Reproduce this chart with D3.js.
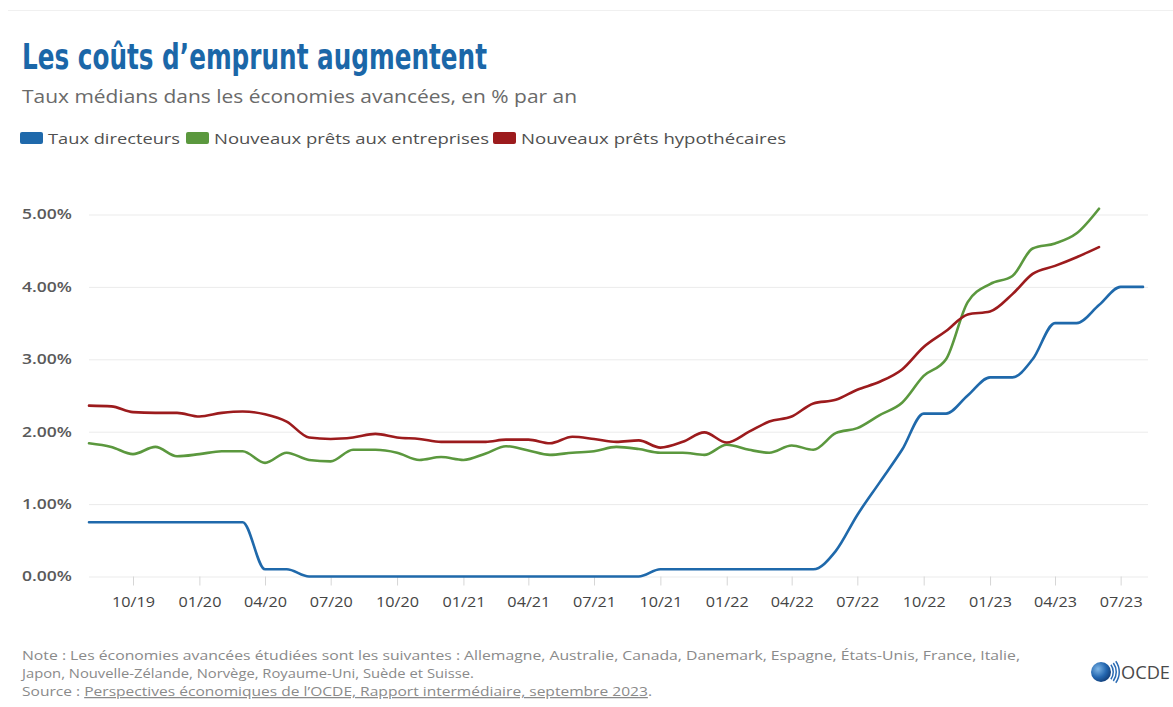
<!DOCTYPE html>
<html>
<head>
<meta charset="utf-8">
<script src="https://cdn.jsdelivr.net/npm/d3@7"></script>
<style>
  body { margin: 0; background: #fff; }
  svg { display: block; font-family: "Open Sans", "Noto Sans", sans-serif; }
</style>
</head>
<body>
<div id="chart"></div>
<script>
// months on the x axis (one point per month)
const months = [
    "2019-08", "2019-09", "2019-10", "2019-11", "2019-12",
    "2020-01", "2020-02", "2020-03", "2020-04", "2020-05", "2020-06",
    "2020-07", "2020-08", "2020-09", "2020-10", "2020-11", "2020-12",
    "2021-01", "2021-02", "2021-03", "2021-04", "2021-05", "2021-06",
    "2021-07", "2021-08", "2021-09", "2021-10", "2021-11", "2021-12",
    "2022-01", "2022-02", "2022-03", "2022-04", "2022-05", "2022-06",
    "2022-07", "2022-08", "2022-09", "2022-10", "2022-11", "2022-12",
    "2023-01", "2023-02", "2023-03", "2023-04", "2023-05", "2023-06",
    "2023-07", "2023-08"
];

// Taux directeurs (runs to 08/23)
const policyRates = [
    0.75, 0.75, 0.75, 0.75, 0.75, 0.75, 0.75, 0.75, 0.1, 0.1, 0,
    0, 0, 0, 0, 0, 0, 0, 0, 0, 0, 0, 0, 0, 0, 0,
    0.1, 0.1, 0.1, 0.1, 0.1, 0.1, 0.1, 0.1,
    0.35, 0.85, 1.3, 1.75, 2.25, 2.25, 2.5, 2.75, 2.75, 3.0, 3.5, 3.5, 3.75, 4.0, 4.0
];

// Nouveaux prêts aux entreprises (runs to 06/23)
const businessLoans = [
    1.84, 1.79, 1.69, 1.79, 1.66, 1.69, 1.73, 1.73, 1.57, 1.71,
    1.61, 1.59, 1.75, 1.75, 1.71, 1.61, 1.65, 1.61, 1.70, 1.80,
    1.74, 1.68, 1.71, 1.73, 1.79, 1.76, 1.71, 1.71, 1.68, 1.82,
    1.75, 1.71, 1.81, 1.75, 1.98, 2.05, 2.23, 2.40, 2.77, 3.00,
    3.79, 4.04, 4.15, 4.53, 4.60, 4.74, 5.08
];

// Nouveaux prêts hypothécaires (runs to 06/23)
const mortgageLoans = [
    2.36, 2.35, 2.27, 2.26, 2.26, 2.21, 2.26, 2.28, 2.24, 2.14,
    1.92, 1.90, 1.92, 1.97, 1.92, 1.90, 1.86, 1.86, 1.86, 1.89,
    1.89, 1.84, 1.93, 1.90, 1.86, 1.88, 1.78, 1.86, 1.99, 1.85,
    2.00, 2.14, 2.21, 2.39, 2.44, 2.58, 2.69, 2.86, 3.17, 3.39,
    3.62, 3.66, 3.90, 4.18, 4.29, 4.41, 4.55
];

const seriesNames = ["Taux directeurs", "Nouveaux prêts aux entreprises", "Nouveaux prêts hypothécaires"];
const seriesColors = ["#1f69ab", "#5b983e", "#9c1b1d"];
const yTicks = [0, 1, 2, 3, 4, 5];
const xTickMonths = ["2019-10", "2020-01", "2020-04", "2020-07", "2020-10", "2021-01", "2021-04",
    "2021-07", "2021-10", "2022-01", "2022-04", "2022-07", "2022-10", "2023-01", "2023-04", "2023-07"];

const width = 1173;
const height = 707;
const plot = { left: 89, right: 1143, top: 214.5, bottom: 576.5, gridEnd: 1148 };

// the source picture is stretched sideways, so texts get fixed widths
const legendX = [20, 186, 493];
const legendTextWidth = [132, 275, 265];

const parseMonth = d3.timeParse("%Y-%m");
const dates = months.map(parseMonth);

const svg = d3.select("#chart")
    .append("svg")
        .attr("width", width)
        .attr("height", height);

// thin separator line at the very top
svg.append("line")
    .attr("x1", 8).attr("x2", width)
    .attr("y1", 10.5).attr("y2", 10.5)
    .attr("stroke", "#f0f0f0");

// title & subtitle
svg.append("text")
    .attr("x", 22).attr("y", 69)
    .attr("font-family", "'Liberation Sans Narrow', 'DejaVu Sans Condensed', sans-serif")
    .attr("font-weight", "bold")
    .attr("font-size", 35)
    .attr("fill", "#1b67a8")
    .attr("textLength", 465)
    .attr("lengthAdjust", "spacingAndGlyphs")
    .text("Les coûts d’emprunt augmentent");

svg.append("text")
    .attr("x", 22).attr("y", 103)
    .attr("font-size", 18)
    .attr("fill", "#6a6a6a")
    .attr("textLength", 555)
    .attr("lengthAdjust", "spacingAndGlyphs")
    .text("Taux médians dans les économies avancées, en % par an");

// legend
const legend = svg.append("g");
seriesNames.forEach((name, i) => {
    legend.append("rect")
        .attr("x", legendX[i]).attr("y", 132)
        .attr("width", 23).attr("height", 12)
        .attr("rx", 2)
        .attr("fill", seriesColors[i]);
    legend.append("text")
        .attr("x", legendX[i] + 28).attr("y", 143.5)
        .attr("font-size", 14.5)
        .attr("fill", "#505050")
        .attr("textLength", legendTextWidth[i])
        .attr("lengthAdjust", "spacingAndGlyphs")
        .text(name);
});

// scales
const x = d3.scaleTime()
    .domain([dates[0], dates[dates.length - 1]])
    .range([plot.left, plot.right]);

const y = d3.scaleLinear()
    .domain([0, 5])
    .range([plot.bottom, plot.top]);

// gridlines + y labels
const yAxis = svg.append("g")
    .attr("transform", `translate(${plot.left}, 0)`)
    .call(d3.axisLeft(y)
        .tickValues(yTicks)
        .tickSize(-(plot.gridEnd - plot.left))
        .tickPadding(17)
        .tickFormat(d => d3.format(".2f")(d) + "%"));

yAxis.select(".domain").remove();
yAxis.selectAll(".tick line").attr("stroke", "#ebebeb");
yAxis.selectAll(".tick text")
    .attr("font-family", "'Open Sans', sans-serif")
    .attr("font-size", 13.5)
    .attr("font-weight", 600)
    .attr("fill", "#5a5a5a")
    .attr("textLength", 50)
    .attr("lengthAdjust", "spacingAndGlyphs");

// x axis ticks & labels
const xAxis = svg.append("g")
    .attr("transform", `translate(0, ${plot.bottom})`)
    .call(d3.axisBottom(x)
        .tickValues(xTickMonths.map(parseMonth))
        .tickSize(9)
        .tickPadding(12)
        .tickFormat(d3.timeFormat("%m/%y")));

xAxis.select(".domain").remove();
xAxis.selectAll(".tick line").attr("stroke", "#d6d6d6");
xAxis.selectAll(".tick text")
    .attr("font-family", "'Open Sans', sans-serif")
    .attr("font-size", 14)
    .attr("fill", "#444")
    .attr("textLength", 43)
    .attr("lengthAdjust", "spacingAndGlyphs");

// lines
const line = d3.line()
    .x((d, i) => x(dates[i]))
    .y(d => y(d))
    .curve(d3.curveMonotoneX);

[policyRates, businessLoans, mortgageLoans].forEach((values, i) => {
    svg.append("path")
        .datum(values)
        .attr("fill", "none")
        .attr("stroke", seriesColors[i])
        .attr("stroke-width", 2.6)
        .attr("stroke-linejoin", "round")
        .attr("stroke-linecap", "round")
        .attr("d", line);
});

// footer notes
const footer = svg.append("g")
    .attr("font-size", 12.5)
    .attr("fill", "#8a8a8a");

footer.append("text")
    .attr("x", 22).attr("y", 660)
    .attr("textLength", 998)
    .attr("lengthAdjust", "spacingAndGlyphs")
    .text("Note : Les économies avancées étudiées sont les suivantes : Allemagne, Australie, Canada, Danemark, Espagne, États-Unis, France, Italie,");

footer.append("text")
    .attr("x", 22).attr("y", 678)
    .attr("textLength", 452)
    .attr("lengthAdjust", "spacingAndGlyphs")
    .text("Japon, Nouvelle-Zélande, Norvège, Royaume-Uni, Suède et Suisse.");

const source = footer.append("text")
    .attr("x", 22).attr("y", 696)
    .attr("textLength", 630)
    .attr("lengthAdjust", "spacingAndGlyphs");
source.append("tspan").text("Source : ");
source.append("tspan")
    .attr("text-decoration", "underline")
    .text("Perspectives économiques de l’OCDE, Rapport intermédiaire, septembre 2023");
source.append("tspan").text(".");

// OCDE logo
const logo = svg.append("g").attr("transform", "translate(1101, 672)");
const grad = svg.append("defs").append("radialGradient")
    .attr("id", "globe")
    .attr("cx", "35%").attr("cy", "35%").attr("r", "70%");
grad.append("stop").attr("offset", "0%").attr("stop-color", "#7fb6e6");
grad.append("stop").attr("offset", "60%").attr("stop-color", "#2467b0");
grad.append("stop").attr("offset", "100%").attr("stop-color", "#123f7a");
logo.append("circle").attr("r", 10).attr("fill", "url(#globe)");
[13, 16, 19].forEach(r => {
    logo.append("path")
        .attr("d", d3.arc()({ innerRadius: r - 1.5, outerRadius: r, startAngle: Math.PI * 0.3, endAngle: Math.PI * 0.7 }))
        .attr("fill", "#2a6bb3");
});
logo.append("text")
    .attr("x", 20).attr("y", 7)
    .attr("font-size", 19)
    .attr("fill", "#4a4a4a")
    .attr("textLength", 49)
    .attr("lengthAdjust", "spacingAndGlyphs")
    .text("OCDE");
</script>
</body>
</html>
